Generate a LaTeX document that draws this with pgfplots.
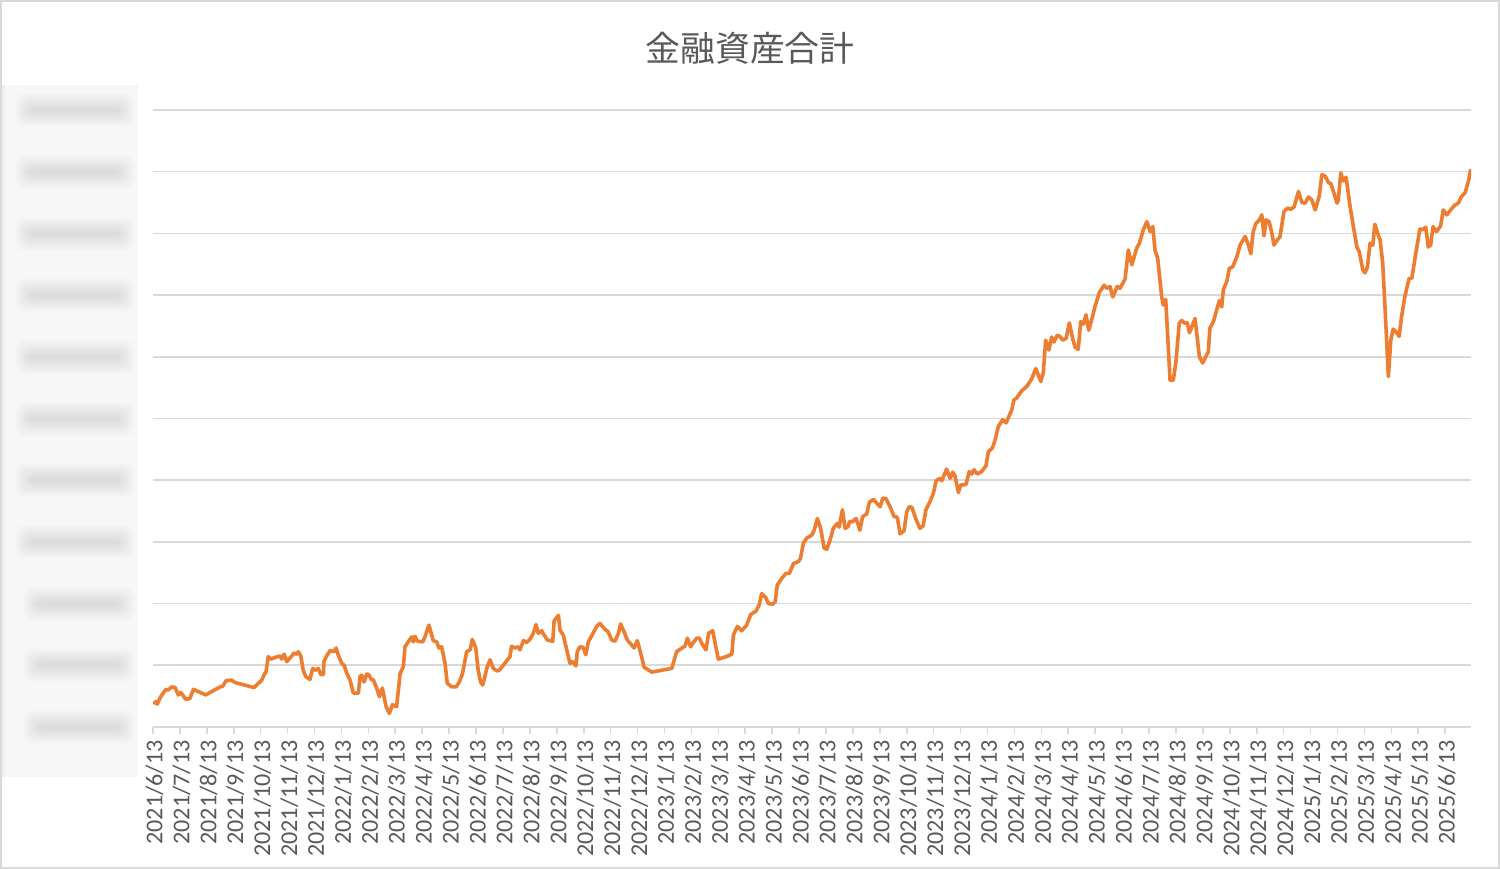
\documentclass[border=0pt]{standalone}
\usepackage{fontspec}
\setmainfont{Carlito}
\newfontfamily\cjk{Noto Sans CJK JP}
\usepackage{pgfplots}
\pgfplotsset{compat=1.18}
\usepackage{pgfplotstable}
\definecolor{lineorange}{HTML}{ED7D31}
\definecolor{gridgray}{HTML}{D9D9D9}
\definecolor{txtgray}{HTML}{595959}

% x: months since 2021/6/13, y: total (millions)
\pgfplotstableread{
x y
0.01 73.8
0.11 74.1
0.16 73.7
0.26 74.7
0.38 75.5
0.48 76.1
0.57 76.0
0.69 76.5
0.82 76.4
0.94 75.2
1.03 75.6
1.10 75.2
1.21 74.5
1.37 74.6
1.50 76.1
1.96 75.2
2.49 76.5
2.59 76.6
2.71 77.5
2.92 77.6
3.05 77.2
3.75 76.4
4.04 77.6
4.12 78.4
4.20 79.0
4.28 81.4
4.37 81.0
4.62 81.4
4.72 81.5
4.78 81.0
4.87 81.8
4.97 80.6
5.15 81.5
5.24 82.0
5.34 81.8
5.40 82.2
5.49 81.5
5.58 79.2
5.67 78.2
5.83 77.7
5.93 79.5
6.02 79.2
6.14 79.5
6.23 78.5
6.33 78.5
6.35 80.6
6.45 81.5
6.58 82.4
6.73 82.2
6.80 82.8
6.88 81.7
7.01 80.3
7.10 80.0
7.20 78.7
7.32 77.6
7.44 75.5
7.63 75.5
7.69 78.2
7.75 78.4
7.84 77.3
7.94 78.6
8.03 78.4
8.12 77.6
8.18 77.7
8.31 76.3
8.41 74.9
8.52 76.3
8.66 73.3
8.78 72.2
8.89 73.6
9.05 73.3
9.18 78.7
9.30 79.8
9.36 83.0
9.48 83.8
9.61 84.6
9.67 83.8
9.73 84.7
9.83 83.9
10.02 83.8
10.10 84.6
10.25 86.5
10.41 84.0
10.54 83.8
10.62 82.8
10.72 83.0
10.85 80.3
10.93 77.1
11.10 76.5
11.26 76.5
11.38 77.3
11.50 78.7
11.65 82.2
11.78 82.5
11.86 84.2
11.99 82.8
12.08 79.2
12.17 77.3
12.25 76.8
12.40 79.5
12.52 80.9
12.64 79.5
12.77 79.1
12.86 79.2
13.01 80.0
13.26 81.4
13.32 83.1
13.45 82.8
13.57 83.0
13.63 82.5
13.76 84.0
13.88 83.7
14.00 84.2
14.13 85.2
14.23 86.6
14.31 85.2
14.44 85.6
14.50 85.1
14.65 84.1
14.85 83.9
14.90 87.2
15.06 88.1
15.12 85.7
15.24 84.9
15.37 82.5
15.49 80.3
15.59 80.6
15.71 79.9
15.76 82.2
15.86 83.0
15.98 82.9
16.08 81.7
16.17 83.8
16.36 85.3
16.48 86.3
16.60 86.8
16.75 86.0
16.91 85.4
17.04 84.1
17.16 83.9
17.29 85.2
17.37 86.7
17.50 85.4
17.62 84.1
17.78 83.3
17.87 82.8
17.99 84.0
18.15 81.4
18.24 79.7
18.53 78.9
19.27 79.5
19.45 82.2
19.68 82.9
19.76 83.1
19.85 84.4
19.97 83.0
20.07 83.7
20.20 84.4
20.29 84.4
20.42 83.3
20.54 82.5
20.64 85.2
20.79 85.6
21.00 81.0
21.29 81.4
21.50 81.8
21.56 84.9
21.71 86.3
21.87 85.6
22.05 86.5
22.20 88.2
22.40 88.8
22.52 89.8
22.61 91.6
22.76 91.0
22.86 90.0
23.02 89.9
23.11 90.3
23.19 93.0
23.36 94.1
23.51 94.9
23.64 94.9
23.79 96.5
23.97 96.8
24.05 97.3
24.16 99.8
24.28 100.6
24.47 101.1
24.56 101.9
24.68 103.8
24.80 102.2
24.93 99.0
25.03 98.8
25.15 100.3
25.27 102.2
25.42 103.0
25.49 102.4
25.61 105.2
25.71 102.2
25.83 102.5
25.87 103.3
25.99 103.3
26.12 103.8
26.26 101.9
26.36 104.1
26.51 104.5
26.61 106.4
26.76 106.9
26.86 106.4
27.01 105.7
27.11 107.1
27.23 107.0
27.38 105.7
27.53 104.1
27.65 104.0
27.75 101.3
27.90 101.8
28.00 104.9
28.09 105.7
28.19 105.6
28.34 103.7
28.49 102.2
28.61 102.6
28.71 105.2
28.86 106.5
28.99 107.9
29.09 109.9
29.23 110.3
29.30 109.9
29.48 111.8
29.61 110.3
29.71 111.3
29.79 110.7
29.92 108.0
30.00 109.2
30.20 109.3
30.32 111.4
30.41 111.0
30.50 111.7
30.62 111.0
30.78 111.4
30.94 112.3
31.03 114.6
31.18 115.2
31.28 116.5
31.40 118.7
31.56 119.8
31.69 119.3
31.90 121.4
31.98 123.0
32.08 123.3
32.27 124.5
32.46 125.2
32.64 126.4
32.79 128.1
32.98 126.0
33.07 127.4
33.16 132.7
33.28 131.1
33.38 133.2
33.47 132.4
33.59 133.5
33.69 133.3
33.79 132.7
33.92 133.0
34.04 135.5
34.16 133.0
34.25 131.6
34.37 131.2
34.46 135.7
34.56 135.3
34.66 136.8
34.76 134.3
34.87 136.0
34.99 138.1
35.15 140.4
35.33 141.6
35.43 141.1
35.55 141.4
35.65 139.7
35.82 141.4
35.92 141.1
36.11 142.6
36.23 147.3
36.36 144.9
36.54 147.6
36.64 148.4
36.79 150.6
36.92 151.9
37.04 150.3
37.14 151.1
37.22 147.3
37.32 146.0
37.47 139.7
37.53 138.4
37.62 139.3
37.78 126.2
37.90 126.2
38.00 129.2
38.12 135.4
38.21 135.9
38.34 135.4
38.42 135.5
38.50 133.9
38.71 136.2
38.87 130.0
38.99 129.0
39.20 130.8
39.26 134.6
39.39 135.7
39.61 139.1
39.70 138.1
39.76 140.9
39.89 142.2
39.98 144.3
40.11 144.6
40.26 146.2
40.38 148.1
40.57 149.5
40.69 148.1
40.78 146.7
40.87 150.3
40.97 151.6
41.10 152.2
41.19 153.0
41.27 149.6
41.35 152.2
41.46 151.9
41.56 150.1
41.64 148.1
41.76 148.9
41.86 149.4
42.01 153.5
42.14 154.1
42.26 153.9
42.39 154.3
42.55 156.8
42.68 155.0
42.80 154.9
42.92 155.9
43.05 155.4
43.17 153.8
43.32 156.0
43.42 159.5
43.54 159.3
43.67 158.2
43.75 158.1
43.85 156.8
43.98 154.9
44.03 155.4
44.12 159.8
44.22 158.5
44.32 159.1
44.47 154.3
44.59 151.1
44.72 147.8
44.81 147.0
44.94 144.1
45.02 143.6
45.11 144.5
45.21 148.4
45.31 148.1
45.39 151.5
45.52 149.6
45.58 149.0
45.68 145.2
45.77 137.6
45.89 126.8
45.98 132.7
46.07 134.5
46.20 133.9
46.29 133.3
46.38 136.5
46.50 139.7
46.66 142.7
46.76 142.7
46.91 146.8
47.06 150.7
47.16 150.6
47.28 151.0
47.37 147.8
47.46 148.1
47.55 151.1
47.68 150.3
47.83 151.2
47.93 153.8
48.06 153.0
48.20 153.8
48.36 154.6
48.49 154.9
48.61 156.0
48.74 156.6
48.86 158.4
48.95 160.4
}\assets

\begin{document}
\begin{tikzpicture}
\useasboundingbox (0,0) rectangle (750bp,434.5bp);
\fill[white] (0,0) rectangle (750bp,434.5bp);
% redacted (blurred) value-axis panel
\fill[black!3] (0bp,46bp) rectangle (69bp,392bp);
\fill[black!7] (0bp,46bp) rectangle (2.5bp,392bp);
\begin{scope}
\clip (2.5bp,46bp) rectangle (69bp,392bp);
\foreach \yv/\xa in {71/15,102/15,132.5/15,163.5/11,194.5/11,225/11,256/11,287/11,317.5/11,348.5/11,379.5/11}{
  \foreach \k in {0,1,...,8}{
    \fill[black, opacity=0.013, rounded corners=4bp]
      ({\xa+4-0.9*\k)*1bp}, {(\yv-1.2-0.9*\k)*1bp}) rectangle ({(60+0.9*\k)*1bp}, {(\yv+1.2+0.9*\k)*1bp});
  }
}
\end{scope}
\draw[gridgray, line width=1bp] (0.5bp,0.5bp) rectangle (749.5bp,434bp);
\node[font=\cjk\fontsize{17.5}{20}\selectfont, text=txtgray] at (375bp,410.5bp) {金融資産合計};
\begin{axis}[
  at={(76.5bp,71bp)}, anchor=south west,
  scale only axis, width=659bp, height=308.5bp,
  xmin=0, xmax=48.96, ymin=70, ymax=170,
  ytick={70,80,...,170}, yticklabels={},
  ymajorgrids, grid style={gridgray, line width=0.8bp},
  axis x line*=bottom, axis y line*=left,
  x axis line style={gridgray, line width=0.8bp, -},
  y axis line style={draw=none},
  ytick style={draw=none},
  xtick={0,1,...,48},
  xticklabels={2021/6/13,2021/7/13,2021/8/13,2021/9/13,2021/10/13,2021/11/13,2021/12/13,2022/1/13,2022/2/13,2022/3/13,2022/4/13,2022/5/13,2022/6/13,2022/7/13,2022/8/13,2022/9/13,2022/10/13,2022/11/13,2022/12/13,2023/1/13,2023/2/13,2023/3/13,2023/4/13,2023/5/13,2023/6/13,2023/7/13,2023/8/13,2023/9/13,2023/10/13,2023/11/13,2023/12/13,2024/1/13,2024/2/13,2024/3/13,2024/4/13,2024/5/13,2024/6/13,2024/7/13,2024/8/13,2024/9/13,2024/10/13,2024/11/13,2024/12/13,2025/1/13,2025/2/13,2025/3/13,2025/4/13,2025/5/13,2025/6/13},
  tick align=outside, major tick length=3.5bp,
  xtick style={gridgray, line width=0.8bp},
  xticklabel style={rotate=90, anchor=east, inner sep=0pt, xshift=-3bp, yshift=-0.8bp, font=\fontsize{12.1}{12.1}\selectfont, text=txtgray},
]
\addplot[lineorange, line width=1.8bp, line join=round, no marks] table[x=x,y=y] {\assets};
\end{axis}
\end{tikzpicture}
\end{document}
